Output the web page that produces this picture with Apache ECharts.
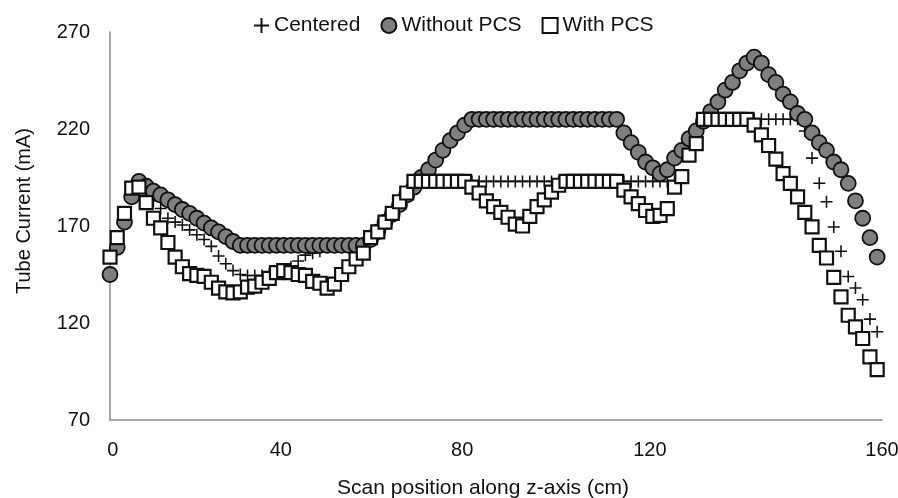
<!DOCTYPE html>
<html>
<head>
<meta charset="utf-8">
<script src="https://cdn.jsdelivr.net/npm/echarts@6/dist/echarts.min.js"></script>
<style>
html,body{margin:0;padding:0;background:#fff;}
#c{width:898px;height:498px;}
</style>
</head>
<body>
<div id="c"></div>
<script>
// Scan positions (cm)
const positions = [0,1.5,3,4.5,6,7.5,9,10.5,12,13.5,15,16.5,18,19.5,21,22.5,24,25.5,27,28.5,30,31.5,33,34.5,36,37.5,39,40.5,42,43.5,45,46.5,48,49.5,51,52.5,54,55.5,57,58.5,60,61.5,63,64.5,66,67.5,69,70.5,72,73.5,75,76.5,78,79.5,81,82.5,84,85.5,87,88.5,90,91.5,93,94.5,96,97.5,99,100.5,102,103.5,105,106.5,108,109.5,111,112.5,114,115.5,117,118.5,120,121.5,123,124.5,126,127.5,129,130.5,132,133.5,135,136.5,138,139.5,141,142.5,144,145.5,147,148.5,150,151.5,153,154.5,156,157.5,159];

// Tube current (mA)
const centered = [154,164,176.5,189.5,190,187,183,179,174,172,170.5,168,165.5,163,159.5,154.5,150.5,147,145,144.5,144.5,144.5,145,146,147.5,149,152,155,156,157,
160,160,160,160,160,160,
164,167,172,176.5,182.5,187,
193,193,193,193,193,193,193,193,193,193,193,193,193,193,193,193,193,193,193,193,193,193,193,193,193,193,193,193,193,193,193,193,193,193,193,193,193,
195.5,206.5,212.5,
225,225,225,225,225,225,225,225,225,225,225,225,225,225,
219,205,192,182.5,169.5,157,144,138,132,122,115.5];

const withoutPCS = [145,159,172,185,193,190.5,188,186,183.5,181,178.5,176.5,174,171.5,169,167,164.5,162,
160,160,160,160,160,160,160,160,160,160,160,160,160,160,160,160,160,160,
163,167,172,176,181,186,190,195,199,204,209,214,218,222,
225,225,225,225,225,225,225,225,225,225,225,225,225,225,225,225,225,225,225,225,225,
218,213,208,203,200,197,199,205,209,215,219,224,229,234,240,244,250,254,257,254,248,244,238,234,228,225,218,213,209,203,199,192,183,174,164,154];

const withPCS = [154,164,176.5,189.5,190,182,174,169,161.5,154,149,145.5,144.5,144,141,138,136,135.5,136,138.5,139,141,143,146,147,146,145,144.5,141.5,140.5,138,140,145,149,153,156,164,167,172,176.5,182.5,187,
193,193,193,193,193,193,193,193,
190,187,183,180,177,174.5,171,170,175,180,183.5,187.5,191,
193,193,193,193,193,193,193,193,
188.5,185,181.5,178,175,175.5,179,190,195.5,206.5,212.5,
225,225,225,225,225,225,225,
222,217,211.5,204.5,197,192,185,177,169.5,160,153.5,143.5,133.5,124,118,112,102.5,96];

// x tick labels and where the reference prints them along the axis
const xTickLabels = ['0','40','80','120','160'];
const xTickAt = [0.6,35.4,73,111.9,160];
const yTicks = [70,120,170,220,270];

const pair = arr => positions.map((x,i) => [x, arr[i]]);
const plusPath = 'path://M4.35,0H5.65V4.35H10V5.65H5.65V10H4.35V5.65H0V4.35H4.35Z';
const FONT = 'Liberation Sans, Arial, sans-serif';

const chart = echarts.init(document.getElementById('c'), null, {renderer:'canvas'});
chart.setOption({
  animation:false,
  backgroundColor:'#fff',
  textStyle:{fontFamily:FONT},
  grid:{left:110,right:16,top:32,bottom:78,containLabel:false,outerBoundsMode:'none'},
  legend:{
    top:10,left:249,itemGap:20,itemWidth:15,itemHeight:15,
    textStyle:{fontSize:21,color:'#111',fontFamily:FONT},
    data:[
      {name:'Centered',icon:plusPath},
      {name:'Without PCS',icon:'circle'},
      {name:'With PCS',icon:'rect'}
    ]
  },
  xAxis:{
    type:'value',min:0,max:160,
    name:'Scan position along z-axis (cm)',nameLocation:'middle',nameGap:58,
    nameTextStyle:{fontSize:21,color:'#111',fontFamily:FONT,padding:[0,26,0,0]},
    axisLine:{show:true,lineStyle:{color:'#8a8a8a',width:1.5}},
    axisTick:{show:false},splitLine:{show:false},
    axisLabel:{fontSize:20,color:'#111',margin:20,fontFamily:FONT,
      customValues:xTickAt,
      formatter:function(v){
        const k = xTickAt.indexOf(v);
        return k>=0 ? xTickLabels[k] : '';
      }}
  },
  yAxis:{
    type:'value',min:yTicks[0],max:yTicks[yTicks.length-1],interval:50,
    name:'Tube Current (mA)',nameLocation:'middle',nameGap:76,nameRotate:90,
    nameTextStyle:{fontSize:20,color:'#111',fontFamily:FONT,padding:[0,0,0,30]},
    axisLine:{show:true,lineStyle:{color:'#8a8a8a',width:1.5}},
    axisTick:{show:false},splitLine:{show:false},
    axisLabel:{fontSize:20,color:'#111',margin:20,fontFamily:FONT}
  },
  series:[
    {name:'Centered',type:'scatter',symbol:plusPath,symbolSize:12,
     itemStyle:{color:'#111',opacity:1},data:pair(centered)},
    {name:'Without PCS',type:'scatter',symbol:'circle',symbolSize:15,
     itemStyle:{color:'#7f7f7f',borderColor:'#111',borderWidth:1.8,opacity:1},data:pair(withoutPCS)},
    {name:'With PCS',type:'scatter',symbol:'rect',symbolSize:13,
     itemStyle:{color:'#fff',borderColor:'#111',borderWidth:2.2,opacity:1},data:pair(withPCS)}
  ]
});
</script>
</body>
</html>
